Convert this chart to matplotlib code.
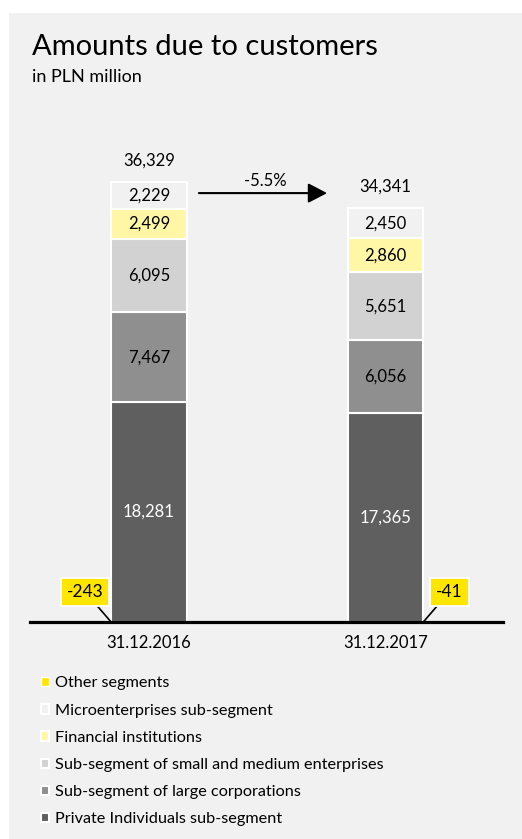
import matplotlib
matplotlib.use("Agg")
import matplotlib.pyplot as plt
from matplotlib.patches import Rectangle

plt.rcParams["font.family"] = ["Lato", "DejaVu Sans"]

# ---- data (PLN million) ----
dates = ["31.12.2016", "31.12.2017"]
private_individuals = [18281, 17365]
large_corporations = [7467, 6056]
sme = [6095, 5651]
financial_institutions = [2499, 2860]
microenterprises = [2229, 2450]
other_segments = [-243, -41]
totals = [36329, 34341]

series = [
    ("Private Individuals sub-segment", private_individuals, "#5f5f5f", "white"),
    ("Sub-segment of large corporations", large_corporations, "#8f8f8f", "black"),
    ("Sub-segment of small and medium enterprises", sme, "#d2d2d2", "black"),
    ("Financial institutions", financial_institutions, "#fff7a6", "black"),
    ("Microenterprises sub-segment", microenterprises, "#f1f1f1", "black"),
]
other_color = "#ffe600"
panel_color = "#f1f1f1"
fs = 12

W, H = 522, 839
fig = plt.figure(figsize=(W / 100, H / 100), dpi=100, facecolor="white")
fig.patches.append(Rectangle((9 / W, 0), 1 - 9 / W, 1 - 13 / H,
                             transform=fig.transFigure, facecolor=panel_color,
                             edgecolor="none", zorder=-10))

ax = fig.add_axes([30 / W, 217 / H, 473 / W, 522 / H])
ax.set_facecolor("none")
x = list(range(len(dates)))
bw = 0.32

bottoms = [0.0] * len(dates)
handles = {}
for name, vals, color, tcolor in series:
    bars = ax.bar(x, vals, bw, bottom=bottoms, color=color, edgecolor="white",
                  linewidth=1.5, label=name, zorder=2)
    handles[name] = bars
    for xi, v, b in zip(x, vals, bottoms):
        ax.text(xi, b + v / 2, f"{v:,}", ha="center", va="center",
                fontsize=fs, color=tcolor, zorder=4)
    bottoms = [b + v for b, v in zip(bottoms, vals)]

other = ax.bar(x, other_segments, bw, color=other_color, edgecolor="white",
               linewidth=1.0, label="Other segments", zorder=1)
handles["Other segments"] = other

# totals above each stack
for xi, top, t in zip(x, bottoms, totals):
    ax.text(xi, top + 1800, f"{t:,}", ha="center", va="center", fontsize=fs)

# labels for the small negative segment
offsets = [(-0.27, 2500, -1), (1.27, 2500, 1)]
for xi, v, (tx, ty, side) in zip(x, other_segments, offsets):
    ax.annotate(f"{v:,}", xy=(xi + side * bw / 2, 0), xytext=(tx, ty),
                ha="center", va="center", fontsize=12.5, zorder=5,
                bbox=dict(boxstyle="square,pad=0.34", facecolor=other_color,
                          edgecolor="white", linewidth=1.3),
                arrowprops=dict(arrowstyle="-", color="black", lw=1.2,
                                shrinkA=0, shrinkB=0))

# change arrow between the two dates
change = (totals[1] / totals[0] - 1) * 100
ax.annotate("", xy=(0.753, 35660), xytext=(0.211, 35660),
            arrowprops=dict(arrowstyle="-|>,head_length=1.15,head_width=0.6",
                            color="black", lw=1.5, shrinkA=0, shrinkB=0))
ax.text(0.49, 36700, f"{change:.1f}%", ha="center", va="center", fontsize=fs)

ax.set_xlim(-0.503, 1.497)
ax.set_ylim(0, 43400)
for s in ["top", "left", "right"]:
    ax.spines[s].set_visible(False)
ax.spines["bottom"].set_linewidth(2.3)
ax.spines["bottom"].set_zorder(6)
ax.set_yticks([])
ax.set_xticks(x)
ax.set_xticklabels(dates, fontsize=fs)
ax.tick_params(axis="x", length=0, pad=9)

fig.text(32 / W, 1 - 55 / H, "Amounts due to customers", fontsize=21,
         va="baseline", ha="left")
fig.text(32 / W, 1 - 82 / H, "in PLN million", fontsize=13,
         va="baseline", ha="left")

order = ["Other segments", "Microenterprises sub-segment", "Financial institutions",
         "Sub-segment of small and medium enterprises",
         "Sub-segment of large corporations", "Private Individuals sub-segment"]
leg = fig.legend([handles[n] for n in order], order, loc="upper left",
                 bbox_to_anchor=(34 / W, 1 - 670 / H), frameon=False,
                 fontsize=11.7, handlelength=0.5, handleheight=0.5,
                 handletextpad=0.4, labelspacing=0.81, borderaxespad=0)

fig.savefig("out.png", dpi=100, facecolor="white")
